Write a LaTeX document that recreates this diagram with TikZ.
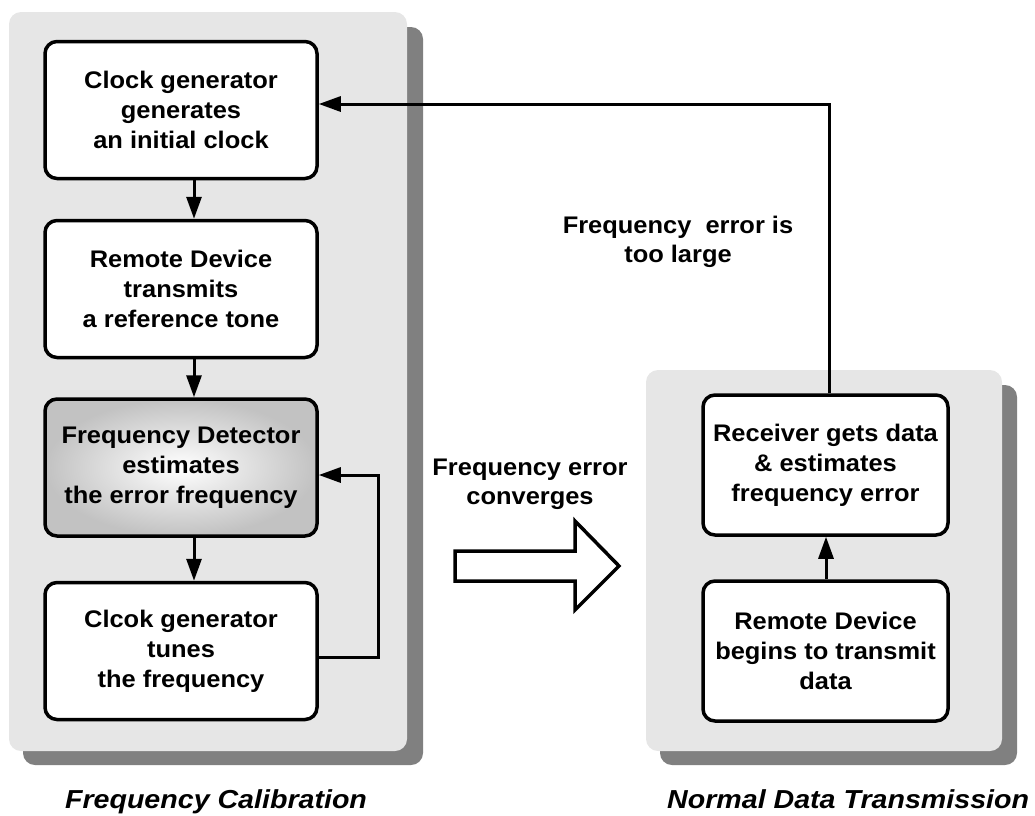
\documentclass[tikz,border=0pt]{standalone}
\usepackage{fontspec}
\setmainfont{Liberation Sans}
\newfontfamily\boxfont[FakeStretch=1.06]{Liberation Sans}
\newfontfamily\labfont[FakeStretch=1.1]{Liberation Sans}
\usetikzlibrary{arrows.meta,shadings}
\definecolor{panelgray}{RGB}{230,230,230}
\definecolor{shadowgray}{RGB}{128,128,128}
\tikzset{
  panelbg/.style={fill=panelgray, rounded corners=12pt},
  panelshadow/.style={fill=shadowgray, rounded corners=12pt},
  stepbox/.style={draw=black, line width=3.5pt, rounded corners=12pt, fill=white,
    minimum width=272pt, minimum height=137pt, align=center, inner sep=0pt,
    font=\boxfont\bfseries\fontsize{24}{30}\selectfont, text=black},
  rbox/.style={stepbox, minimum width=245pt, minimum height=140pt},
  plain/.style={align=center, inner sep=0pt,
    font=\boxfont\bfseries\fontsize{24}{29}\selectfont},
  caption/.style={inner sep=0pt, font=\labfont\bfseries\itshape\fontsize{26}{30}\selectfont},
  arr/.style={line width=3pt, -{Triangle[length=22pt,width=15pt]}},
  bigarrow/.style={draw=black, fill=white, line width=3.5pt, line join=miter}
}
\begin{document}
\begin{tikzpicture}[x=1pt,y=-1pt]
\useasboundingbox (0,0) rectangle (1035,815);
% panels
\fill[panelshadow] (23,27) rectangle (423,765);
\fill[panelbg] (9,12) rectangle (407,751);
\fill[panelshadow] (660,385) rectangle (1017,765);
\fill[panelbg] (646,370) rectangle (1002,751);

% left boxes
\node[stepbox] (b1) at (181,110) {Clock generator\\generates\\an initial clock};
\node[stepbox] (b2) at (181,289) {Remote Device\\transmits\\a reference tone};
\node[stepbox, inner color=white, outer color=black!24] (b3) at (181,467.5) {Frequency Detector\\estimates\\the error frequency};
\node[stepbox] (b4) at (181,651) {Clcok generator\\tunes\\the frequency};

% right boxes
\node[rbox] (r1) at (825.5,465) {Receiver gets data\\\& estimates\\frequency error};
\node[rbox] (r2) at (825.5,651) {Remote Device\\begins to transmit\\data};

% connectors
\coordinate (ax) at (194,0);
\draw[arr] (b1.south -| ax) -- (b2.north -| ax);
\draw[arr] (b2.south -| ax) -- (b3.north -| ax);
\draw[arr] (b3.south -| ax) -- (b4.north -| ax);

\coordinate (fb1) at (378,657);
\coordinate (fb2) at (378,475);
\draw[arr] (b4.east |- fb1) -- (fb1) -- (fb2) -- (b3.east |- fb2);

\coordinate (rx) at (826,0);
\draw[arr] (r2.north -| rx) -- (r1.south -| rx);

\coordinate (tl) at (829,104);
\draw[arr] (r1.north -| tl) -- (tl) -- (b1.east |- tl);

% big hollow arrow
\draw[bigarrow] (455,551) -- (575,551) -- (575,521) -- (619,566) -- (575,610) -- (575,581) -- (455,581) -- cycle;

% texts
\node[plain] (t1) at (678,242) {Frequency~~error is\\too large};
\node[plain] (t2) at (530,484) {Frequency error\\converges};

\node[caption, anchor=base] (c1) at (216,808) {Frequency Calibration};
\node[caption, anchor=base west] (c2) at (667,808) {Normal Data Transmission};
\end{tikzpicture}
\end{document}
